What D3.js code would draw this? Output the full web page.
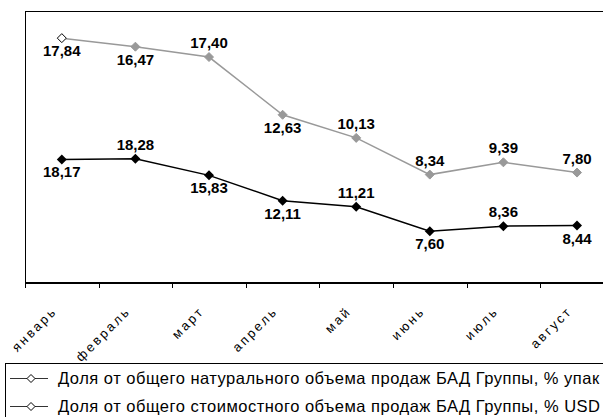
<!DOCTYPE html>
<html>
<head>
<meta charset="utf-8">
<script src="https://cdn.jsdelivr.net/npm/d3@7"></script>
<style>
  body { margin: 0; background: #fff; }
  svg { display: block; font-family: "Liberation Sans", Arial, sans-serif; }
</style>
</head>
<body>
<div id="chart"></div>
<script>
var months = ["январь", "февраль", "март", "апрель", "май", "июнь", "июль", "август"];
var natural = [18.17, 18.28, 15.83, 12.11, 11.21, 7.60, 8.36, 8.44];
var money = [17.84, 16.47, 17.40, 12.63, 10.13, 8.34, 9.39, 7.80];
var seriesNames = [
  "Доля от общего натурального объема продаж БАД Группы, % упак",
  "Доля от общего стоимостного объема продаж БАД Группы, % USD"
];
// label placement: "t" above the point, "b" below
var naturalPos = ["b", "t", "b", "b", "t", "b", "t", "b"];
var moneyPos = ["b", "b", "t", "b", "t", "t", "t", "t"];
var yDomain = [0, 40];

var w = 603, h = 417;
var mLeft = 25, mTop = 11, mBottom = 283, step = 73.6;

var svg = d3.select("#chart").append("svg")
  .attr("width", w)
  .attr("height", h);

// stacked line chart: second series sits on top of the first
var rows = months.map(function(m, i) { return { m: m, a: natural[i], b: money[i] }; });
var stacked = d3.stack().keys(["a", "b"])(rows);

var x = d3.scaleBand()
  .domain(months)
  .range([mLeft, mLeft + step * months.length]);

var y = d3.scaleLinear()
  .domain(yDomain)
  .range([mBottom, mTop]);

var cx = function(i) { return x(months[i]) + x.bandwidth() / 2; };

// plot frame
svg.append("line").attr("x1", mLeft).attr("x2", w + 20).attr("y1", mTop + 0.5).attr("y2", mTop + 0.5)
  .attr("stroke", "#000").attr("stroke-width", 1);
svg.append("line").attr("x1", mLeft + 0.5).attr("x2", mLeft + 0.5).attr("y1", mTop).attr("y2", mBottom)
  .attr("stroke", "#000").attr("stroke-width", 1);

// x axis with ticks between categories
var xAxis = svg.append("g")
  .attr("transform", "translate(0," + mBottom + ")");
xAxis.append("line").attr("x1", mLeft).attr("x2", w + 20).attr("y1", 0).attr("y2", 0)
  .attr("stroke", "#000").attr("stroke-width", 2);
xAxis.selectAll(".tk")
  .data(d3.range(months.length + 1))
  .enter().append("line")
  .attr("x1", function(i) { return Math.round(mLeft + i * x.step()) + 0.5; })
  .attr("x2", function(i) { return Math.round(mLeft + i * x.step()) + 0.5; })
  .attr("y1", 0).attr("y2", 5)
  .attr("stroke", "#000");
xAxis.selectAll(".lbl")
  .data(months)
  .enter().append("text")
  .attr("transform", function(d, i) { return "translate(" + (cx(i) - 4) + ",29) rotate(-45)"; })
  .attr("text-anchor", "end")
  .attr("font-size", 13)
  .attr("letter-spacing", 2.5)
  .attr("fill", "#000")
  .text(function(d) { return d; });

var line = d3.line()
  .x(function(d, i) { return cx(i); })
  .y(function(d) { return y(d[1]); });

var diamond = function(r) { return "M0," + (-r) + "L" + r + ",0L0," + r + "L" + (-r) + ",0Z"; };

// top series (grey)
svg.append("path").datum(stacked[1])
  .attr("d", line).attr("fill", "none").attr("stroke", "#999").attr("stroke-width", 1.5);
svg.selectAll(".gm").data(stacked[1]).enter().append("path")
  .attr("transform", function(d, i) { return "translate(" + cx(i) + "," + y(d[1]) + ")"; })
  .attr("d", diamond(4.5))
  .attr("fill", function(d, i) { return i === 0 ? "#fff" : "#999"; })
  .attr("stroke", function(d, i) { return i === 0 ? "#000" : "#999"; })
  .attr("stroke-width", 1);

// bottom series (black)
svg.append("path").datum(stacked[0])
  .attr("d", line).attr("fill", "none").attr("stroke", "#000").attr("stroke-width", 1.5);
svg.selectAll(".bm").data(stacked[0]).enter().append("path")
  .attr("transform", function(d, i) { return "translate(" + cx(i) + "," + y(d[1]) + ")"; })
  .attr("d", diamond(5))
  .attr("fill", "#000");

// data labels
function labels(series, vals, pos) {
  svg.selectAll(null).data(series).enter().append("text")
    .attr("x", function(d, i) { return cx(i); })
    .attr("y", function(d, i) { return y(d[1]) + (pos[i] === "t" ? -9 : 18); })
    .attr("text-anchor", "middle")
    .attr("font-size", 15)
    .attr("font-weight", "bold")
    .attr("fill", "#000")
    .text(function(d, i) { return vals[i].toFixed(2).replace(".", ","); });
}
labels(stacked[1], money, moneyPos);
labels(stacked[0], natural, naturalPos);

// legend
var lg = svg.append("g");
lg.append("rect").attr("x", 5.5).attr("y", 363.5).attr("width", 640).attr("height", 80)
  .attr("fill", "#fff").attr("stroke", "#000");
seriesNames.forEach(function(name, i) {
  var ly = 378 + i * 28;
  lg.append("line").attr("x1", 10).attr("x2", 48).attr("y1", ly + 0.5).attr("y2", ly + 0.5)
    .attr("stroke", "#333").attr("stroke-width", 1);
  lg.append("path").attr("transform", "translate(31," + (ly + 0.5) + ")")
    .attr("d", diamond(4)).attr("fill", "#fff").attr("stroke", "#000");
  lg.append("text").attr("x", 58).attr("y", ly + 5.5)
    .attr("font-size", 16.5).attr("letter-spacing", 0.5).attr("fill", "#000")
    .text(name);
});
</script>
</body>
</html>
